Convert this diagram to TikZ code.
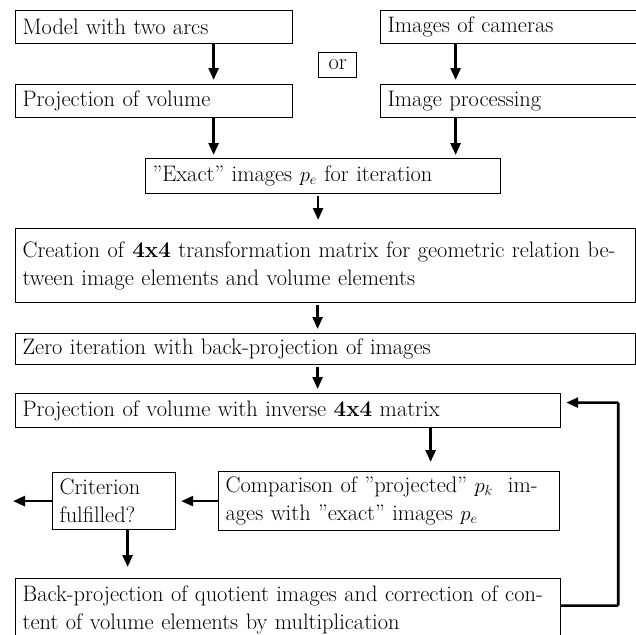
\documentclass[tikz,border=0pt]{standalone}
\usetikzlibrary{arrows.meta}
\newcommand\diafont{\fontsize{22.4}{28}\selectfont}
\begin{document}
\begin{tikzpicture}[x=1pt,y=-1pt,
  box/.style={draw, line width=1.2pt, anchor=north west, inner xsep=7pt, inner ysep=0pt, align=left, font=\diafont},
  orbox/.style={draw, line width=1.2pt, anchor=north west, inner sep=0pt, minimum width=38pt, minimum height=25pt, font=\diafont},
  arr/.style={line width=2.6pt, -{Triangle[length=12pt,width=10pt]}},
]
\fill[white] (0,0) rectangle (636,634);
\useasboundingbox (0,0) rectangle (636,634);

% boxes
\node[box, text width=263pt, minimum height=33pt] (A) at (15,10) {Model with two arcs};
\node[box, text width=266pt, minimum height=33pt] (B) at (380,10) {Images of cameras};
\node[orbox] (or) at (318,52) {or};
\node[box, text width=263pt, minimum height=33pt] (C) at (15,84) {Projection of volume};
\node[box, text width=266pt, minimum height=33pt] (D) at (380,84) {Image processing};
\node[box, text width=341pt, minimum height=35pt] (E) at (145,158) {''Exact'' images $p_e$ for iteration};
\node[box, text width=606pt, minimum height=74pt] (F) at (15,228)
  {\makebox[606pt][s]{Creation of \textbf{4x4} transformation matrix for geometric relation be-}\\tween image elements and volume elements};
\node[box, text width=606pt, minimum height=31pt] (G) at (15,333) {Zero iteration with back-projection of images};
\node[box, text width=531pt, minimum height=34pt] (H) at (15,393) {Projection of volume with inverse \textbf{4x4} matrix};
\node[box, text width=327pt, minimum height=59pt] (I) at (218,471)
  {\makebox[327pt][s]{Comparison of ''projected'' $p_k$ \ im-}\\ages with ''exact'' images $p_e$};
\node[box, text width=109pt, minimum height=57pt] (J) at (52,472) {Criterion\\fulfilled?};
\node[box, text width=531pt, minimum height=62pt] (K) at (15,578)
  {\makebox[531pt][s]{Back-projection of quotient images and correction of con-}\\tent of volume elements by multiplication};
\coordinate (out) at (13,500);

% connectors
\draw[arr, shorten >=4pt] ([xshift=59.5pt]A.south) -- ([xshift=59.5pt]A.south |- C.north);
\draw[arr, shorten >=4pt] ([xshift=-65pt]B.south) -- ([xshift=-65pt]B.south |- D.north);
\draw[arr, shorten >=3pt] ([xshift=59.5pt]C.south) -- ([xshift=59.5pt]C.south |- E.north);
\draw[arr, shorten >=3pt] ([xshift=-65pt]D.south) -- ([xshift=-65pt]D.south |- E.north);
\draw[arr, shorten >=8pt, shorten <=2pt] ([xshift=-5pt]E.south) -- ([xshift=-5pt]E.south |- F.north);
\draw[arr, shorten >=4pt, shorten <=2pt] ([xshift=-8pt]F.south) -- ([xshift=-8pt]F.south |- G.north);
\draw[arr, shorten >=4pt, shorten <=2pt] ([xshift=-8pt]G.south) -- ([xshift=-8pt]G.south |- H.north);
\draw[arr, shorten >=9pt] ([xshift=142.5pt]H.south) -- ([xshift=142.5pt]H.south |- I.north);
\draw[arr, shorten >=5pt] (I.west) -- (J.east);
\draw[arr] (J.west) -- (J.west -| out);
\draw[arr, shorten >=11pt] ([xshift=13.5pt]J.south) -- ([xshift=13.5pt]J.south |- K.north);
\draw[arr, shorten >=5pt, rounded corners=1pt] ([yshift=4pt]K.east) -- ++(57,0) |- ([yshift=8pt]H.east);
\end{tikzpicture}
\end{document}
